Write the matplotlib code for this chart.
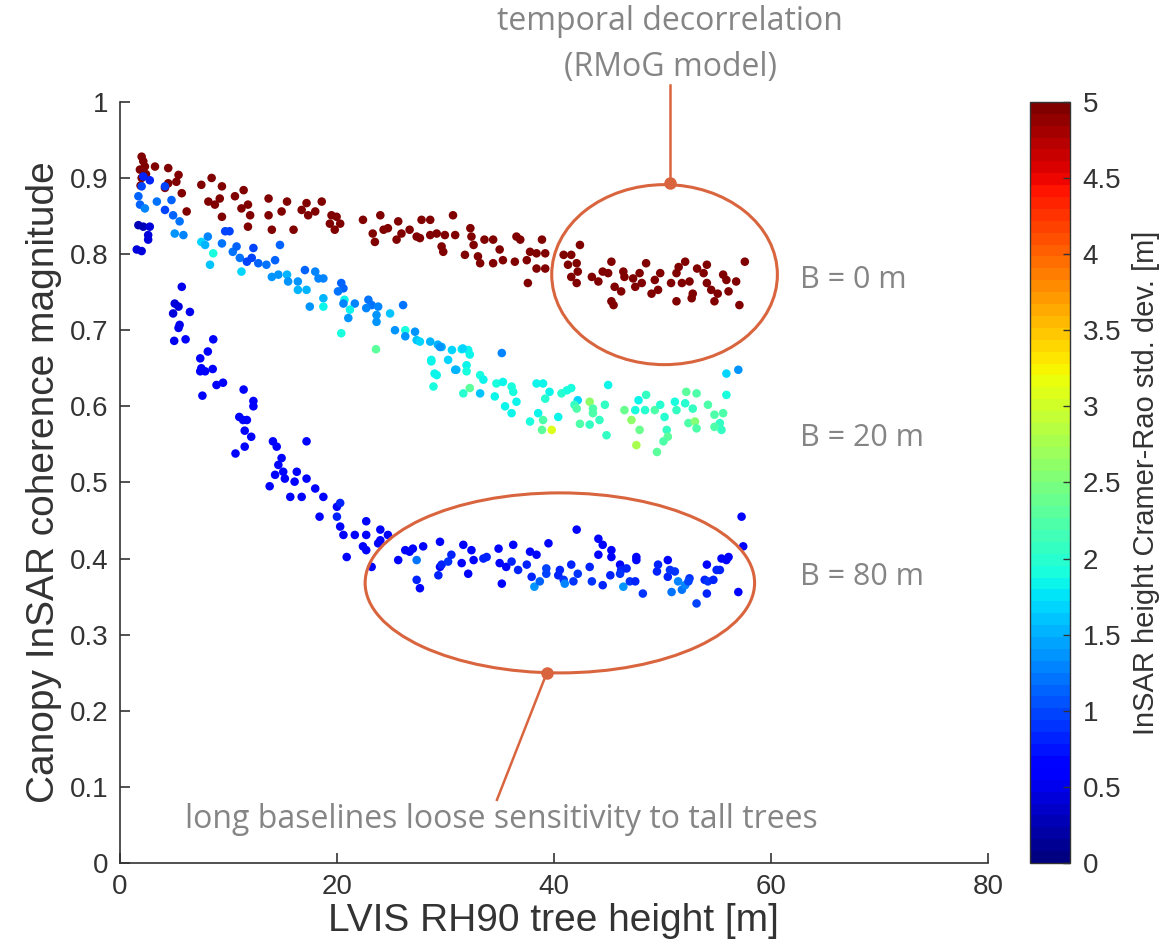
import numpy as np
import matplotlib
matplotlib.use("Agg")
import matplotlib.pyplot as plt
from matplotlib.patches import Ellipse

# B = 0 m  (all saturate at the top of the colour scale)
x_b0 = [2.0, 2.15, 1.84, 2.0, 2.3, 1.9, 2.4, 3.23, 4.45, 5.4, 5.2, 4.45, 4.15, 5.7, 6.15,
        7.5, 8.45, 9.4, 8.15, 8.75, 9.2, 9.4, 10.6, 11.4, 11.2, 11.8, 12.0, 11.8,
        13.7, 13.7, 14.0, 14.9, 15.4, 16.0, 16.75, 17.2, 17.35, 18.0, 18.6, 19.35, 19.5,
        19.97, 20.3, 19.8, 22.4, 24.0, 23.3, 23.5, 24.3, 24.7, 25.65, 25.5, 25.95,
        26.7, 27.35, 27.8, 28.6, 27.65, 28.6, 29.2, 29.95, 30.7, 30.9, 29.65, 29.8,
        31.8, 32.3, 32.4, 32.6, 33.0, 33.2, 33.6, 34.4, 34.4, 35.0, 35.3, 36.4, 36.55,
        36.9, 37.5, 37.8, 38.4, 38.9, 39.2, 38.4, 39.2, 37.6,
        42.4, 40.9, 41.6, 41.3, 42.1, 42.2, 41.6, 42.1, 43.5, 44.1, 44.5, 45.0, 45.3,
        45.6, 45.3, 45.5, 46.4, 46.5, 46.2, 47.3, 47.5, 47.9, 48.1, 48.5, 49.3, 49.0,
        49.8, 49.6, 50.8, 51.3, 51.5, 52.1, 51.3, 51.8, 52.5, 52.7, 52.8, 53.2, 53.8,
        54.1, 54.1, 54.5, 54.8, 55.1, 55.6, 55.9, 56.1, 56.8, 57.1, 57.6]
y_b0 = [0.928, 0.922, 0.911, 0.900, 0.915, 0.890, 0.905, 0.915, 0.913, 0.904, 0.895, 0.893, 0.887, 0.880, 0.856,
        0.891, 0.900, 0.889, 0.869, 0.865, 0.873, 0.849, 0.876, 0.884, 0.860, 0.865, 0.851, 0.836,
        0.873, 0.851, 0.832, 0.856, 0.869, 0.832, 0.858, 0.867, 0.851, 0.856, 0.869, 0.840, 0.851,
        0.849, 0.840, 0.832, 0.845, 0.851, 0.827, 0.816, 0.832, 0.834, 0.843, 0.819, 0.827,
        0.832, 0.823, 0.845, 0.845, 0.821, 0.825, 0.827, 0.825, 0.851, 0.825, 0.810, 0.803,
        0.799, 0.834, 0.823, 0.812, 0.797, 0.788, 0.819, 0.819, 0.788, 0.806, 0.792, 0.790, 0.823,
        0.819, 0.792, 0.803, 0.801, 0.819, 0.801, 0.781, 0.781, 0.762,
        0.812, 0.799, 0.799, 0.786, 0.788, 0.777, 0.770, 0.762, 0.770, 0.764, 0.777, 0.775, 0.790,
        0.757, 0.738, 0.733, 0.777, 0.770, 0.751, 0.768, 0.757, 0.775, 0.762, 0.788, 0.766, 0.748,
        0.775, 0.753, 0.762, 0.775, 0.783, 0.790, 0.738, 0.762, 0.764, 0.742, 0.748, 0.781, 0.775,
        0.786, 0.762, 0.753, 0.738, 0.748, 0.773, 0.766, 0.751, 0.764, 0.733, 0.790]
c_b0 = [4.95] * len(x_b0)

# B = 20 m
x_b20 = [2.15, 2.75, 2.0, 1.7, 1.85, 2.3, 3.4, 4.15, 4.75, 4.15, 4.9, 5.5, 5.05, 5.85,
         7.5, 7.85, 8.1, 8.6, 8.3, 9.4, 9.7, 10.1, 10.4, 10.75, 11.05, 11.2, 11.7, 12.15,
         12.3, 12.75, 13.5, 14.3, 14.75, 14.0, 14.6, 15.4, 15.5, 16.4, 16.4, 17.05, 17.2,
         18.0, 18.3, 18.75, 18.75, 18.75, 17.5,
         20.4, 20.6, 20.1, 20.7, 20.6, 21.65, 21.2, 21.05, 20.4, 22.9, 23.2, 23.8, 22.7,
         23.65, 23.65, 24.9, 26.1, 25.35, 26.3, 26.3, 27.2, 27.35, 27.65, 28.6, 29.3, 29.65,
         30.6, 31.5, 32.1, 32.25, 30.25, 28.7, 30.9, 31.95, 31.95, 29.0, 33.2, 33.5, 35.2,
         23.6, 34.7, 35.3, 36.1, 38.4, 39.0, 29.5, 28.7, 29.2, 28.9, 31.6, 31.0,
         31.65, 32.25, 33.2, 34.55, 36.25, 36.55, 35.5, 36.1, 37.8, 38.55, 39.0, 38.9, 39.8,
         39.6, 39.2, 40.4, 40.7, 41.2, 41.6, 42.2, 41.9, 42.1, 42.4, 43.3, 43.6, 43.6, 43.3,
         44.2, 44.85, 44.7, 45.0, 46.5, 47.15, 47.5, 47.8, 48.5, 48.4, 47.9, 47.6, 49.3,
         49.8, 50.2, 50.4, 50.5, 49.5, 50.1, 51.15, 51.3, 52.1, 52.2, 53.15, 52.8, 52.4,
         53.0, 53.15, 54.2, 54.8, 55.3, 55.45, 55.6, 54.8, 55.9, 55.9, 57.0]
y_b20 = [0.902, 0.897, 0.889, 0.876, 0.865, 0.860, 0.869, 0.889, 0.871, 0.858, 0.851, 0.843, 0.827, 0.825,
         0.816, 0.812, 0.823, 0.801, 0.786, 0.814, 0.830, 0.830, 0.803, 0.810, 0.795, 0.777, 0.790, 0.795,
         0.808, 0.788, 0.786, 0.792, 0.812, 0.770, 0.773, 0.773, 0.764, 0.764, 0.753, 0.779, 0.753,
         0.777, 0.768, 0.768, 0.742, 0.731, 0.731,
         0.762, 0.755, 0.751, 0.740, 0.735, 0.735, 0.727, 0.716, 0.696, 0.740, 0.733, 0.731, 0.729,
         0.720, 0.711, 0.722, 0.733, 0.700, 0.700, 0.692, 0.698, 0.687, 0.685, 0.685, 0.681, 0.678,
         0.674, 0.675, 0.674, 0.668, 0.661, 0.659, 0.648, 0.654, 0.646, 0.643, 0.641, 0.635, 0.670,
         0.675, 0.630, 0.632, 0.626, 0.630, 0.630, 0.678, 0.661, 0.641, 0.626, 0.676, 0.648,
         0.617, 0.624, 0.617, 0.613, 0.619, 0.606, 0.600, 0.591, 0.580, 0.591, 0.582, 0.569, 0.569,
         0.619, 0.610, 0.586, 0.617, 0.621, 0.624, 0.608, 0.602, 0.597, 0.577, 0.606, 0.597, 0.591, 0.576,
         0.582, 0.562, 0.602, 0.628, 0.595, 0.582, 0.595, 0.608, 0.615, 0.595, 0.569, 0.549, 0.595,
         0.602, 0.586, 0.569, 0.560, 0.540, 0.554, 0.606, 0.595, 0.604, 0.619, 0.617, 0.597, 0.578,
         0.580, 0.571, 0.602, 0.589, 0.578, 0.569, 0.591, 0.573, 0.615, 0.643, 0.648]
c_b20 = [0.8, 0.8, 1.0, 1.1, 1.1, 1.3, 1.2, 1.0, 1.1, 1.0, 1.1, 1.2, 1.4, 1.3,
         1.7, 1.5, 1.3, 1.9, 1.6, 1.2, 1.0, 1.0, 1.2, 1.1, 1.2, 1.7, 1.0, 1.0,
         1.0, 1.1, 1.2, 1.1, 1.1, 1.4, 1.4, 1.5, 1.4, 1.4, 1.5, 1.1, 1.5,
         1.3, 1.3, 1.3, 1.5, 1.8, 1.4,
         1.1, 1.1, 1.2, 1.8, 1.3, 1.3, 1.8, 1.4, 1.9, 1.2, 1.2, 1.3, 1.3,
         1.4, 1.4, 1.6, 1.2, 1.4, 1.9, 1.4, 1.4, 1.6, 1.7, 1.5, 1.5, 1.5,
         1.7, 1.8, 1.8, 1.8, 1.7, 1.8, 1.5, 1.8, 1.9, 1.8, 1.9, 1.8, 1.3,
         2.3, 1.9, 1.8, 1.9, 1.8, 1.8, 1.4, 1.8, 1.8, 1.9, 1.7, 1.5,
         2.0, 2.3, 1.6, 1.8, 1.9, 1.8, 1.8, 1.8, 1.9, 1.8, 2.2, 2.3, 3.1,
         1.8, 2.0, 1.8, 2.0, 1.9, 1.9, 1.7, 2.1, 2.2, 2.2, 2.6, 2.2, 2.2, 2.1,
         2.1, 2.1, 2.1, 1.8, 2.4, 2.6, 1.9, 1.8, 2.1, 2.0, 2.4, 2.8, 2.2,
         2.0, 2.0, 2.1, 2.3, 2.3, 2.2, 1.9, 2.1, 2.0, 2.3, 2.2, 2.1, 2.2,
         2.5, 2.2, 2.2, 2.2, 2.1, 2.1, 2.2, 2.2, 1.9, 1.7, 1.4]

# B = 80 m
x_b80 = [1.7, 2.15, 2.75, 2.6, 2.6, 1.55, 2.0,
         5.7, 5.05, 4.9, 5.4, 6.45, 5.5, 5.4, 5.0, 6.05, 8.6, 8.1, 7.4, 7.5, 7.4, 7.85,
         8.55, 8.9, 9.5, 7.6, 11.4, 12.3, 12.3, 11.0, 11.35, 11.7, 11.5, 12.1, 11.5, 10.65,
         14.1, 14.45, 17.2, 14.9, 14.6, 15.05, 16.3, 14.3, 15.2, 16.1, 17.2, 13.8, 15.7,
         16.75, 18.0, 18.75,
         18.4, 20.0, 20.0, 20.3, 20.6, 21.65, 22.7, 22.7, 20.9, 22.4, 22.7, 24.0, 23.8,
         24.7, 23.2, 25.65, 26.3, 27.0, 27.95, 27.35, 27.65, 29.5, 29.5, 20.3, 24.0, 26.7,
         27.35, 29.35, 29.65, 30.25, 30.55, 31.5, 31.65, 32.1, 32.4, 32.6, 33.5, 33.8, 34.9,
         35.0, 35.2, 35.6, 36.25, 36.1, 36.7, 37.5, 37.8, 38.4, 37.95, 38.2, 38.7, 39.3,
         39.3, 39.5,
         40.55, 40.4, 40.9, 41.0, 41.6, 41.8, 42.2, 42.1, 43.3, 43.5, 44.1, 44.5, 44.1,
         45.3, 45.3, 45.2, 44.5, 46.1, 46.2, 46.7, 46.1, 46.4, 47.0, 47.5, 47.6, 47.6,
         48.2, 49.6, 49.5, 50.5, 50.5, 50.7, 51.15, 50.85, 51.45, 51.8, 52.1, 52.5, 52.4,
         53.15, 54.1, 53.9, 54.2, 54.1, 54.7, 55.0, 55.3, 55.45, 55.9, 56.1, 57.3, 57.45, 57.0]
y_b80 = [0.838, 0.836, 0.836, 0.825, 0.819, 0.806, 0.804,
         0.757, 0.735, 0.722, 0.731, 0.724, 0.707, 0.703, 0.686, 0.688, 0.688, 0.672, 0.663, 0.650, 0.646, 0.646,
         0.649, 0.628, 0.631, 0.614, 0.622, 0.607, 0.600, 0.586, 0.582, 0.582, 0.568, 0.560, 0.547, 0.538,
         0.554, 0.547, 0.554, 0.532, 0.523, 0.514, 0.514, 0.510, 0.505, 0.501, 0.505, 0.495, 0.481,
         0.481, 0.492, 0.481,
         0.455, 0.468, 0.455, 0.442, 0.431, 0.431, 0.449, 0.431, 0.402, 0.416, 0.411, 0.438, 0.420,
         0.431, 0.389, 0.398, 0.411, 0.413, 0.416, 0.372, 0.361, 0.422, 0.389, 0.473, 0.424, 0.409,
         0.398, 0.378, 0.392, 0.396, 0.405, 0.394, 0.418, 0.380, 0.411, 0.398, 0.400, 0.402, 0.413,
         0.394, 0.367, 0.389, 0.418, 0.396, 0.385, 0.392, 0.409, 0.405, 0.376, 0.363, 0.370, 0.387,
         0.380, 0.420,
         0.385, 0.378, 0.372, 0.367, 0.392, 0.370, 0.380, 0.438, 0.389, 0.370, 0.426, 0.418, 0.405,
         0.411, 0.402, 0.378, 0.365, 0.392, 0.385, 0.387, 0.380, 0.363, 0.370, 0.370, 0.402, 0.398,
         0.354, 0.392, 0.383, 0.398, 0.376, 0.385, 0.383, 0.356, 0.370, 0.359, 0.365, 0.374, 0.370,
         0.341, 0.392, 0.372, 0.370, 0.354, 0.372, 0.385, 0.385, 0.400, 0.398, 0.402, 0.455, 0.416, 0.356]
c_b80 = [0.3, 0.3, 0.4, 0.4, 0.4, 0.4, 0.4,
         0.5, 0.4, 0.4, 0.4, 0.5, 0.5, 0.5, 0.5, 0.6, 0.6, 0.6, 0.6, 0.6, 0.6, 0.6,
         0.6, 0.6, 0.6, 0.6, 0.6, 0.6, 0.6, 0.7, 0.7, 0.7, 0.7, 0.7, 0.7, 0.7,
         0.7, 0.7, 0.7, 0.7, 0.7, 0.7, 0.7, 0.7, 0.7, 0.7, 0.7, 0.7, 0.7,
         0.7, 0.7, 0.7,
         0.7, 0.7, 0.8, 0.7, 0.7, 0.7, 0.7, 0.7, 0.7, 0.7, 0.7, 0.7, 0.7,
         0.7, 0.7, 0.7, 0.7, 0.7, 0.7, 0.8, 0.7, 0.7, 0.7, 0.8, 0.7, 0.7,
         1.2, 0.8, 0.8, 0.9, 0.8, 0.7, 0.7, 0.7, 0.7, 0.7, 0.8, 0.8, 0.7,
         0.7, 0.7, 0.7, 0.7, 0.8, 0.8, 0.8, 0.7, 0.7, 0.8, 1.4, 1.1, 1.0,
         1.0, 0.7,
         0.8, 0.8, 0.9, 1.3, 0.8, 0.9, 0.9, 0.7, 0.8, 0.9, 0.7, 0.7, 0.7,
         0.7, 0.7, 0.8, 0.8, 0.7, 0.8, 0.8, 0.9, 1.4, 0.9, 0.8, 0.7, 0.7,
         0.9, 0.8, 0.8, 0.7, 0.8, 0.9, 0.9, 1.2, 1.3, 1.2, 1.3, 0.9, 1.0,
         1.0, 0.7, 0.8, 0.9, 0.8, 0.8, 0.8, 0.8, 0.7, 0.7, 0.7, 0.7, 0.7, 0.7]

x_ticks = [0, 20, 40, 60, 80]
y_ticks = [0, 0.1, 0.2, 0.3, 0.4, 0.5, 0.6, 0.7, 0.8, 0.9, 1]
y_ticklabels = ["0", "0.1", "0.2", "0.3", "0.4", "0.5", "0.6", "0.7", "0.8", "0.9", "1"]
cb_ticks = [0, 0.5, 1, 1.5, 2, 2.5, 3, 3.5, 4, 4.5, 5]
cb_ticklabels = ["0", "0.5", "1", "1.5", "2", "2.5", "3", "3.5", "4", "4.5", "5"]

ax_font = "Liberation Sans"
note_font = "Open Sans"
dark = "#333333"
note_gray = "#858585"
accent = "#d9653f"

cmap = plt.get_cmap("jet", 64)

fig = plt.figure(figsize=(11.76, 9.52), dpi=100)
ax = fig.add_axes([0.102, 0.0935, 0.738, 0.7995])
cax = fig.add_axes([0.876, 0.0935, 0.034, 0.7995])

sc = ax.scatter(x_b0, y_b0, c=c_b0, cmap=cmap, vmin=0, vmax=5, s=38, linewidths=0)
ax.scatter(x_b20, y_b20, c=c_b20, cmap=cmap, vmin=0, vmax=5, s=38, linewidths=0)
ax.scatter(x_b80, y_b80, c=c_b80, cmap=cmap, vmin=0, vmax=5, s=38, linewidths=0)

ax.set_xlim(0, 80)
ax.set_ylim(0, 1)
ax.set_xticks(x_ticks)
ax.set_yticks(y_ticks)
ax.set_yticklabels(y_ticklabels)
for s in ["top", "right"]:
    ax.spines[s].set_visible(False)
for s in ["left", "bottom"]:
    ax.spines[s].set_color(dark)
    ax.spines[s].set_linewidth(1.2)
ax.tick_params(direction="in", length=7, width=1.2, color=dark, labelcolor=dark,
               labelsize=20, pad=8)
for lab in ax.get_xticklabels() + ax.get_yticklabels():
    lab.set_family(ax_font)

ax.set_xlabel("LVIS RH90 tree height [m]", fontsize=28, family=ax_font, color=dark, labelpad=2)
ax.set_ylabel("Canopy InSAR coherence magnitude", fontsize=28, family=ax_font, color=dark, labelpad=6)

# annotations
ax.add_patch(Ellipse((50.2, 0.773), 20.8, 0.2365, fill=False, edgecolor=accent, lw=2.2))
ax.add_patch(Ellipse((40.55, 0.368), 35.9, 0.2365, fill=False, edgecolor=accent, lw=2.2))
ax.plot([50.7, 50.7], [1.022, 0.894], color=accent, lw=1.8, clip_on=False)
ax.plot([50.7], [0.894], "o", color=accent, ms=8, clip_on=False)
ax.plot([39.35, 34.75], [0.250, 0.083], color=accent, lw=1.8)
ax.plot([39.35], [0.250], "o", color=accent, ms=8)

ax.text(62.7, 0.766, "B = 0 m", fontsize=22, family=note_font, color=note_gray, va="center")
ax.text(62.7, 0.558, "B = 20 m", fontsize=22, family=note_font, color=note_gray, va="center")
ax.text(62.7, 0.376, "B = 80 m", fontsize=22, family=note_font, color=note_gray, va="center")
ax.text(35.2, 0.0565, "long baselines loose sensitivity to tall trees", fontsize=23,
        family=note_font, color=note_gray, ha="center", va="center")
fig.text(0.570, 0.977, "temporal decorrelation", fontsize=23, family=note_font,
         color=note_gray, ha="center", va="center")
fig.text(0.570, 0.9286, "(RMoG model)", fontsize=23, family=note_font,
         color=note_gray, ha="center", va="center")

cb = fig.colorbar(sc, cax=cax, ticks=cb_ticks)
cb.set_ticklabels(cb_ticklabels)
cb.outline.set_edgecolor(dark)
cb.outline.set_linewidth(1.0)
cax.tick_params(direction="in", length=5, width=1.0, color=dark, labelcolor=dark,
                labelsize=20, pad=9)
for lab in cax.get_yticklabels():
    lab.set_family(ax_font)
cb.set_label("InSAR height Cramer-Rao std. dev. [m]", fontsize=21, family=ax_font,
             color=dark, labelpad=8)

fig.savefig("out.png", dpi=100)
